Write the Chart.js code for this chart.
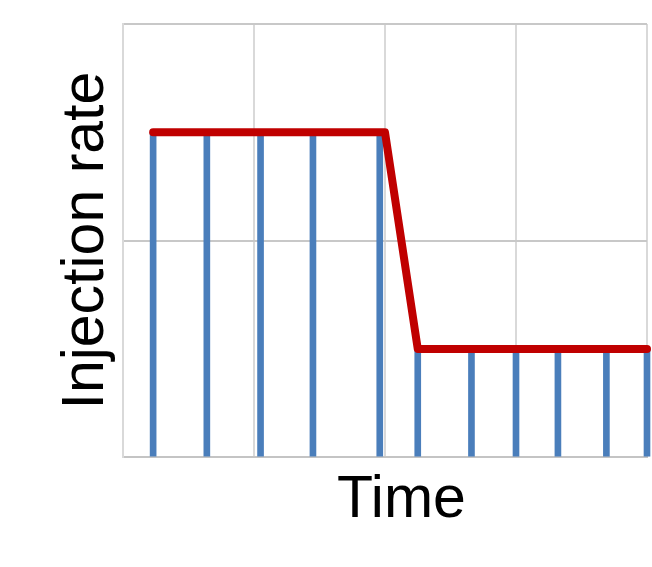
<!DOCTYPE html>
<html>
<head>
<meta charset="UTF-8">
<title>Injection rate</title>
<script src="https://cdn.jsdelivr.net/npm/chart.js@4.4.0/dist/chart.umd.min.js"></script>
<style>
  body { margin: 0; background: #fff; }
  #wrap { width: 652px; height: 567px; }
</style>
</head>
<body>
<div id="wrap"><canvas id="rateChart"></canvas></div>
<script>
// injection pulses (time, rate)
const pulseTimes = [0.23, 0.64, 1.05, 1.45, 1.96, 2.25, 2.66, 3.0, 3.32, 3.69, 4.0];
const pulseRates = [1.5, 1.5, 1.5, 1.5, 1.5, 0.5, 0.5, 0.5, 0.5, 0.5, 0.5];

// envelope of the rate
const envTimes = [0.23, 2.0, 2.25, 4.0];
const envRates = [1.5, 1.5, 0.5, 0.5];

// leading spaces nudge the title a bit to the right, like the original
const xTitle = '  Time';
const yTitle = 'Injection rate';

const titleFont = { family: '"Liberation Sans", Arial, sans-serif', size: 59, weight: 'normal' };

var ctx = document.getElementById('rateChart').getContext('2d');
var chart = new Chart(ctx, {
  type: 'bar',
  data: {
    datasets: [
      {
        type: 'line',
        data: envTimes.map((t, i) => ({ x: t, y: envRates[i] })),
        borderColor: '#C00000',
        borderWidth: 8,
        borderCapStyle: 'round',
        borderJoinStyle: 'round',
        pointRadius: 0,
        tension: 0,
        fill: false,
        clip: false,
        order: 0
      },
      {
        type: 'bar',
        data: pulseTimes.map((t, i) => ({ x: t, y: pulseRates[i] })),
        backgroundColor: '#4A7EBB',
        barThickness: 6,
        clip: false,
        order: 1
      }
    ]
  },
  options: {
    responsive: true,
    maintainAspectRatio: false,
    animation: false,
    layout: { padding: { left: 0, top: 24, right: 5, bottom: 31 } },
    plugins: { legend: { display: false }, tooltip: { enabled: false } },
    scales: {
      x: {
        type: 'linear',
        min: 0,
        max: 4,
        offset: false,
        ticks: { display: false, stepSize: 1 },
        grid: { color: '#d9d9d9', lineWidth: 2, drawTicks: false, offset: false },
        border: { color: '#c4c4c4', width: 2 },
        title: { display: true, text: xTitle, color: '#000', font: titleFont, padding: { top: 8, bottom: 0 } }
      },
      y: {
        min: 0,
        max: 2,
        ticks: { display: false, stepSize: 1 },
        grid: { color: '#c8c8c8', lineWidth: 2, drawTicks: false },
        border: { color: '#d9d9d9', width: 2 },
        title: { display: true, text: yTitle, color: '#000', font: titleFont, padding: { top: 51.6, bottom: 0.6 } }
      }
    }
  }
});
</script>
</body>
</html>
